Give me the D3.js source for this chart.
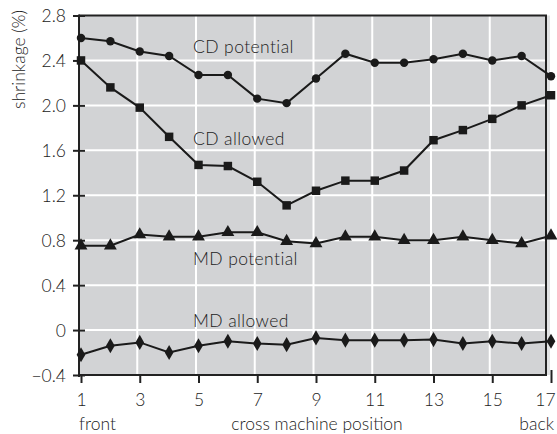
<!DOCTYPE html>
<html><head><meta charset="utf-8">
<script src="https://cdn.jsdelivr.net/npm/d3@7"></script>
<style>
body{margin:0;background:#fff;}
text{font-family:Lato,"Open Sans",sans-serif;fill:#222;font-weight:300;}
</style></head>
<body><svg id="c" width="557" height="434"></svg>
<script>
const positions = [1,2,3,4,5,6,7,8,9,10,11,12,13,14,15,16,17];
const cdPotential = [2.60,2.57,2.48,2.44,2.27,2.27,2.06,2.02,2.24,2.46,2.38,2.38,2.41,2.46,2.40,2.44,2.26];
const cdAllowed   = [2.40,2.16,1.98,1.72,1.47,1.46,1.32,1.11,1.24,1.33,1.33,1.42,1.69,1.78,1.88,2.00,2.09];
const mdPotential = [0.75,0.75,0.85,0.83,0.83,0.87,0.87,0.79,0.77,0.83,0.83,0.80,0.80,0.83,0.80,0.77,0.84];
const mdAllowed   = [-0.22,-0.14,-0.11,-0.20,-0.14,-0.10,-0.12,-0.13,-0.07,-0.09,-0.09,-0.09,-0.085,-0.12,-0.10,-0.12,-0.10];
const xTicks = [1,3,5,7,9,11,13,15,17];
const yTicks = [-0.4,0,0.4,0.8,1.2,1.6,2.0,2.4,2.8];
const seriesNames = ["CD potential","CD allowed","MD potential","MD allowed"];

const FS = "17.5px";
const svg = d3.select("#c");
const x = d3.scaleLinear().domain([1,17]).range([81,551]);
const y = d3.scaleLinear().domain([-0.4,2.8]).range([375,15.5]);
const pL = 79, pR = 546, pT = 15.5, pB = 375;

// background
svg.append("rect").attr("x",pR).attr("y",pT).attr("width",4).attr("height",pB-pT).attr("fill","#e2e3e4");
svg.append("rect").attr("x",pL).attr("y",pT).attr("width",pR-pL).attr("height",pB-pT).attr("fill","#d2d3d5");

// gridlines
const g = svg.append("g");
g.selectAll("line.v").data(xTicks.filter(d=>d>1&&d<17)).join("line")
  .attr("x1",d=>x(d)-2.5).attr("x2",d=>x(d)-2.5).attr("y1",pT).attr("y2",pB)
  .attr("stroke","#fff").attr("stroke-width",2);
g.selectAll("line.h").data(yTicks.filter(d=>d>-0.4&&d<2.8)).join("line")
  .attr("x1",pL).attr("x2",pR).attr("y1",d=>y(d)).attr("y2",d=>y(d))
  .attr("stroke","#fff").attr("stroke-width",2);

// frame
svg.append("line").attr("x1",pL).attr("x2",pR+1).attr("y1",pT).attr("y2",pT).attr("stroke","#222").attr("stroke-width",2);
svg.append("line").attr("x1",pR).attr("x2",pR).attr("y1",pT).attr("y2",pB).attr("stroke","#222").attr("stroke-width",2);

// axes
const yAxis = d3.axisLeft(y).tickValues(yTicks).tickSize(0).tickPadding(0)
  .tickFormat(d=> d<0 ? "\u2212"+Math.abs(d).toFixed(1) : (d===0?"0":d.toFixed(1)));
const ya = svg.append("g").attr("transform",`translate(${pL},0)`).call(yAxis);
ya.select(".domain").remove();
ya.selectAll(".tick line").attr("x1",-6).attr("x2",6).attr("stroke","#222").attr("stroke-width",2);
ya.selectAll(".tick text").attr("x",-13).attr("dy","0.35em").style("font-size",FS).attr("fill","#222");
svg.append("line").attr("x1",pL).attr("x2",pL).attr("y1",pT-1).attr("y2",pB+2).attr("stroke","#222").attr("stroke-width",2);

const xAxis = d3.axisBottom(x).tickValues(xTicks).tickSize(0).tickPadding(0);
const xa = svg.append("g").attr("transform",`translate(0,${pB})`).call(xAxis);
xa.select(".domain").remove();
xa.selectAll(".tick line").attr("y1",d=>d===17?-5:0).attr("y2",8).attr("stroke","#222").attr("stroke-width",2);
xa.selectAll(".tick text").attr("y",31).attr("dy",0).attr("x",d=>d===17?-6:0).style("font-size",FS).attr("fill","#222");
svg.append("line").attr("x1",pL-1).attr("x2",pR+1).attr("y1",pB).attr("y2",pB).attr("stroke","#222").attr("stroke-width",2);

// axis titles
svg.append("text").attr("transform","translate(25,10) rotate(-90)").attr("text-anchor","end")
  .style("font-size",FS).text("shrinkage (%)");
svg.append("text").attr("x",317).attr("y",430).attr("text-anchor","middle").style("font-size",FS).text("cross machine position");
svg.append("text").attr("x",79).attr("y",430).style("font-size",FS).text("front");
svg.append("text").attr("x",554).attr("y",430).attr("text-anchor","end").style("font-size",FS).text("back");

// series
const allSeries = [cdPotential, cdAllowed, mdPotential, mdAllowed];
const symbols = [d3.symbolCircle, d3.symbolSquare, d3.symbolTriangle, d3.symbolDiamond];
const sizes = [56, 72, 72, 66];
const line = d3.line().x((d,i)=>x(positions[i])).y(d=>y(d));
allSeries.forEach((s,k)=>{
  svg.append("path").datum(s).attr("d",line).attr("fill","none").attr("stroke","#1a1a1a").attr("stroke-width",2);
  svg.append("g").selectAll("path").data(s).join("path")
    .attr("transform",(d,i)=>`translate(${x(positions[i])},${y(d)})`)
    .attr("d",d3.symbol().type(symbols[k]).size(sizes[k]))
    .attr("fill","#1a1a1a");
});

// series labels
const labelY = [53, 145, 265, 327];
seriesNames.forEach((n,i)=>{
  svg.append("text").attr("x",193).attr("y",labelY[i]).style("font-size",FS).style("letter-spacing","0.4px").text(n);
});
</script></body></html>
